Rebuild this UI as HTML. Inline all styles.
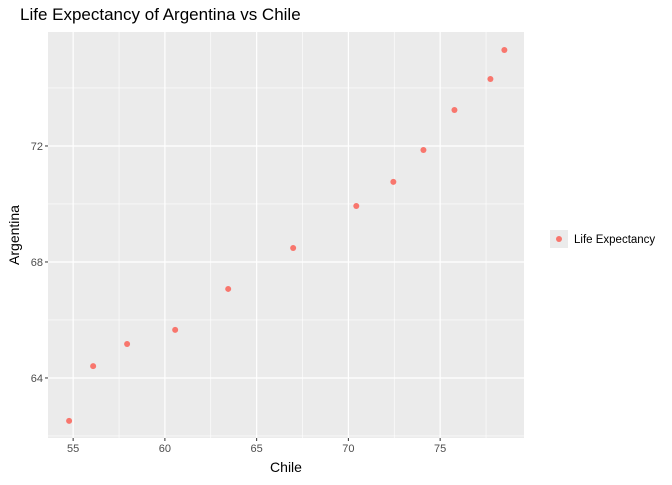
<!DOCTYPE html>
<html><head><meta charset="utf-8"><style>
body{margin:0;background:#fff;font-family:"Liberation Sans",Arial,sans-serif}
svg text{font-family:"Liberation Sans",Arial,sans-serif}
</style></head><body>
<svg id="c" width="672" height="480" xmlns="http://www.w3.org/2000/svg">
<text x="20" y="20" font-size="17" fill="#000">Life Expectancy of Argentina vs Chile</text>
<rect x="48" y="32" width="476" height="406" fill="#ebebeb"/>
<g id="grid"></g>
<g id="pts"></g>
<g id="ticks"></g>
<text x="286" y="472" font-size="14" text-anchor="middle">Chile</text>
<text transform="translate(19,235) rotate(-90)" font-size="14" text-anchor="middle">Argentina</text>
<g>
<rect x="550" y="230" width="18" height="18" fill="#ebebeb"/>
<circle cx="559" cy="239" r="3" fill="#f8766d"/>
<text x="574" y="243" font-size="11.5">Life Expectancy</text>
</g>
</svg>
<script>
const chile=[54.78,56.09,57.94,60.56,63.45,66.99,70.43,72.45,74.09,75.78,77.74,78.5];
const argentina=[62.52,64.41,65.17,65.66,67.07,68.48,69.93,70.76,71.86,73.24,74.31,75.31];
const xTicks=[55,60,65,70,75];
const yTicks=[64,68,72];
const NS="http://www.w3.org/2000/svg";
const X0=48,X1=524,Y0=32,Y1=438;
const xMin=53.63,xMax=79.57,yMin=61.93,yMax=75.93;
function sx(v){return X0+(v-xMin)/(xMax-xMin)*(X1-X0);}
function sy(v){return Y1-(v-yMin)/(yMax-yMin)*(Y1-Y0);}
function mk(t,a,p){const e=document.createElementNS(NS,t);for(const k in a)e.setAttribute(k,a[k]);p.appendChild(e);return e;}
const g=document.getElementById('grid'),pt=document.getElementById('pts'),tk=document.getElementById('ticks');
function minor(a){const r=[];for(let i=0;i<a.length-1;i++)r.push((a[i]+a[i+1])/2);r.unshift(a[0]-(a[1]-a[0])/2);r.push(a[a.length-1]+(a[1]-a[0])/2);return r;}
minor(xTicks).forEach(v=>{if(sx(v)>X0&&sx(v)<X1){const l=mk('line',{x1:sx(v),x2:sx(v),y1:Y0,y2:Y1,stroke:'#fff','stroke-width':0.6},g);

}});
minor(yTicks).forEach(v=>{if(sy(v)>Y0&&sy(v)<Y1){const l=mk('line',{x1:X0,x2:X1,y1:sy(v),y2:sy(v),stroke:'#fff','stroke-width':0.6},g);

}});
xTicks.forEach(v=>{const l=mk('line',{x1:sx(v),x2:sx(v),y1:Y0,y2:Y1,stroke:'#fff','stroke-width':1.2},g);


const t=mk('line',{x1:sx(v),x2:sx(v),y1:Y1,y2:Y1+3,stroke:'#333'},tk);


const tx=mk('text',{x:sx(v),y:Y1+14,'font-size':11,fill:'#4d4d4d','text-anchor':'middle'},tk);tx.textContent=v;

});
yTicks.forEach(v=>{const l=mk('line',{x1:X0,x2:X1,y1:sy(v),y2:sy(v),stroke:'#fff','stroke-width':1.2},g);


const t=mk('line',{x1:X0-3,x2:X0,y1:sy(v),y2:sy(v),stroke:'#333'},tk);


const tx=mk('text',{x:X0-5,y:sy(v)+4,'font-size':11,fill:'#4d4d4d','text-anchor':'end'},tk);tx.textContent=v;

});
chile.forEach((c,i)=>{const p=mk('circle',{cx:sx(c),cy:sy(argentina[i]),r:3,fill:'#f8766d'},pt);

});
</script>
</body></html>
